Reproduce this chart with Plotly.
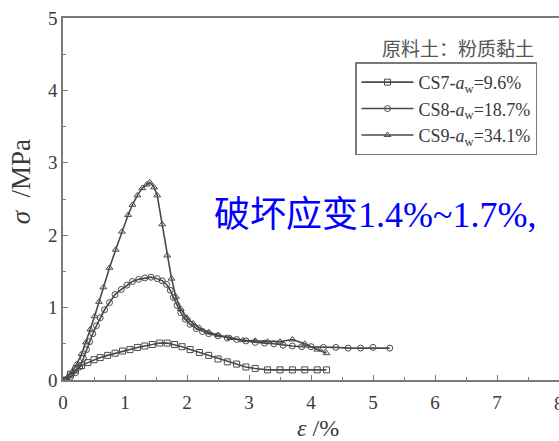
import plotly.graph_objects as go

# Stress-strain curves of the raw silty clay specimens
cs7_strain = [0.05, 0.12, 0.2, 0.3, 0.4, 0.5, 0.6, 0.72, 0.84, 0.96, 1.08, 1.2, 1.32, 1.44, 1.56, 1.68,
              1.8, 1.92, 2.05, 2.2, 2.35, 2.5, 2.65, 2.8, 2.95, 3.1, 3.3, 3.5, 3.7, 3.9, 4.1, 4.25]
cs7_stress = [0.0, 0.08, 0.14, 0.2, 0.24, 0.28, 0.31, 0.34, 0.37, 0.40, 0.42, 0.45, 0.47, 0.49, 0.51, 0.51,
              0.49, 0.46, 0.42, 0.38, 0.34, 0.29, 0.25, 0.22, 0.18, 0.16, 0.14, 0.14, 0.14, 0.14, 0.14, 0.14]

cs8_strain = [0.05, 0.12, 0.2, 0.27, 0.33, 0.38, 0.43, 0.48, 0.54, 0.6, 0.67, 0.75, 0.84, 0.94, 1.03, 1.12,
              1.22, 1.32, 1.42, 1.52, 1.6, 1.67, 1.73, 1.78, 1.84, 1.9, 1.97, 2.05, 2.15, 2.25, 2.35, 2.5,
              2.65, 2.8, 2.95, 3.1, 3.25, 3.4, 3.55, 3.7, 3.85, 4.0, 4.2, 4.4, 4.6, 4.8, 5.0, 5.27]
cs8_stress = [0.0, 0.04, 0.1, 0.18, 0.3, 0.42, 0.53, 0.64, 0.75, 0.86, 0.97, 1.07, 1.18, 1.25, 1.31, 1.36,
              1.39, 1.41, 1.42, 1.40, 1.37, 1.32, 1.24, 1.14, 1.03, 0.93, 0.84, 0.77, 0.71, 0.67, 0.64, 0.61,
              0.58, 0.56, 0.54, 0.52, 0.51, 0.50, 0.48, 0.47, 0.46, 0.46, 0.45, 0.45, 0.44, 0.44, 0.45, 0.44]

cs9_strain = [0.0, 0.08, 0.15, 0.22, 0.3, 0.37, 0.44, 0.51, 0.58, 0.65, 0.75, 0.85, 0.95, 1.05, 1.12, 1.2,
              1.28, 1.35, 1.4, 1.47, 1.52, 1.6, 1.68, 1.75, 1.82, 1.9, 2.0, 2.1, 2.2, 2.35, 2.5, 2.7,
              2.9, 3.1, 3.3, 3.5, 3.7, 3.9, 4.1, 4.25]
cs9_stress = [0.0, 0.05, 0.12, 0.22, 0.36, 0.52, 0.7, 0.88, 1.08, 1.28, 1.55, 1.8, 2.05, 2.28, 2.42, 2.55,
              2.65, 2.70, 2.73, 2.66, 2.55, 2.15, 1.72, 1.40, 1.15, 0.98, 0.86, 0.78, 0.72, 0.66, 0.62, 0.58,
              0.55, 0.54, 0.53, 0.53, 0.56, 0.50, 0.42, 0.37]

series_names = ["CS7-<i>a</i><sub>w</sub>=9.6%", "CS8-<i>a</i><sub>w</sub>=18.7%",
                "CS9-<i>a</i><sub>w</sub>=34.1%"]
series_symbols = ["square-open", "circle-open", "triangle-up-open"]

x_ticks = [0, 1, 2, 3, 4, 5, 6, 7, 8]
y_ticks = [0, 1, 2, 3, 4, 5]

LINE = "#4a4a4a"
AXIS = "#7a7a7a"
TEXT = "#3a3a3a"
SERIF = "Liberation Serif, Times New Roman, serif"

W, H = 559, 441
L, R, T, B = 63, 0, 17.5, 61
PW, PH = W - L - R, H - T - B


def px_x(px):
    return (px - L) / PW


def px_y(py):
    return (H - B - py) / PH


fig = go.Figure()
for i, (xs, ys) in enumerate([(cs7_strain, cs7_stress), (cs8_strain, cs8_stress), (cs9_strain, cs9_stress)]):
    fig.add_trace(go.Scatter(
        x=xs, y=ys, mode="lines+markers", name=series_names[i],
        legendgroup=f"g{i}",
        line=dict(color=LINE, width=1.6),
        marker=dict(symbol=series_symbols[i], size=6, color=LINE, line=dict(width=1, color=LINE)),
    ))

axis_common = dict(
    showline=True, linecolor=AXIS, linewidth=1.5, showgrid=False, zeroline=False,
    ticks="inside", ticklen=5, tickwidth=1, tickcolor=AXIS,
    tickfont=dict(family=SERIF, size=19, color=TEXT),
    minor=dict(ticks="inside", ticklen=3, tickwidth=1, tickcolor=AXIS, dtick=0.5),
)

fig.update_xaxes(range=[0, 8], tickvals=x_ticks[:-1], ticktext=[str(v) for v in x_ticks[:-1]],
                 mirror=True, ticklabelstandoff=4, **axis_common)
fig.update_yaxes(range=[0, 5], tickvals=y_ticks, ticktext=[str(v) for v in y_ticks],
                 **axis_common)

# last x tick label sits on the page edge
fig.add_annotation(x=x_ticks[-1], xref="x", y=px_y(404), yref="paper", text=str(x_ticks[-1]),
                   showarrow=False, xanchor="center", yanchor="middle",
                   font=dict(family=SERIF, size=19, color=TEXT))

fig.add_annotation(x=px_x(21), y=px_y(182), xref="paper", yref="paper", text="<i>σ</i>  /MPa",
                   showarrow=False, textangle=-90, xanchor="center", yanchor="middle",
                   font=dict(family=SERIF, size=27, color=TEXT))
fig.add_annotation(x=px_x(318), y=px_y(428), xref="paper", yref="paper", text="<i>ε</i> /%",
                   showarrow=False, xanchor="center", yanchor="middle",
                   font=dict(family=SERIF, size=24, color=TEXT))
fig.add_annotation(x=px_x(458), y=px_y(47), xref="paper", yref="paper", text="原料土：粉质黏土",
                   showarrow=False, xanchor="center", yanchor="middle",
                   font=dict(family="Noto Sans CJK SC", size=19, color="#555555"))
fig.add_annotation(x=px_x(375), y=px_y(215), xref="paper", yref="paper", text="破坏应变1.4%~1.7%,",
                   showarrow=False, xanchor="center", yanchor="middle",
                   font=dict(family="Liberation Serif, Noto Sans CJK SC", size=36, color="#0000ff"))

fig.update_layout(
    width=W, height=H, margin=dict(l=L, r=R, t=T, b=B),
    paper_bgcolor="white", plot_bgcolor="white",
    showlegend=True,
    legend=dict(
        x=px_x(355), y=px_y(62), xanchor="left", yanchor="top",
        bordercolor=AXIS, borderwidth=1.5, bgcolor="white",
        font=dict(family=SERIF, size=18, color=TEXT),
        tracegroupgap=0, itemwidth=52,
    ),
)

fig.write_html("out.html")
